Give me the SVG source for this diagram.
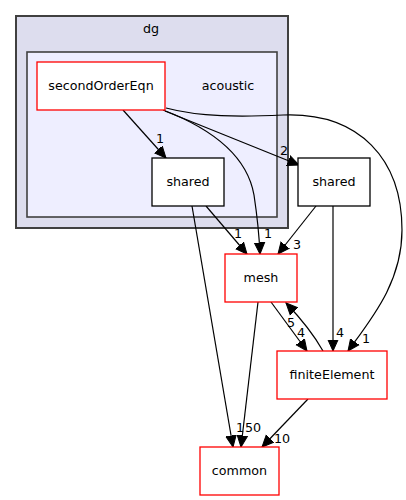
<svg xmlns="http://www.w3.org/2000/svg" width="406" height="500" viewBox="0 0 406 500">
<defs>
<style>
text{font-family:"DejaVu Sans","Liberation Sans",sans-serif;font-size:12.7px;fill:#000;}
.n text{text-anchor:middle;}
.e path{fill:none;stroke:#000;stroke-width:1.2;}
.e text{text-anchor:middle;}
.red{fill:#fff;stroke:#ff0000;stroke-width:1.3;}
.blk{fill:#fff;stroke:#000;stroke-width:1.3;}
</style>
<marker id="ah" markerUnits="userSpaceOnUse" markerWidth="14" markerHeight="14" viewBox="0 -7 14 14" refX="11.5" refY="0" orient="auto">
<path d="M0,-5.2 L11.5,0 L0,5.2 z" fill="#000" stroke="#000" stroke-width="1"/>
</marker>
</defs>
<rect width="406" height="500" fill="#fff"/>
<g id="cluster_dg">
<rect x="16" y="16" width="272" height="212" fill="#ddddee" stroke="#404040" stroke-width="2"/>
<text x="151" y="33" text-anchor="middle">dg</text>
</g>
<g id="cluster_acoustic">
<rect x="27" y="52" width="250" height="165" fill="#eeeeff" stroke="#404040" stroke-width="1.6"/>
<text x="228" y="90" text-anchor="middle">acoustic</text>
</g>
<g id="edges" class="e">
<path d="M123,110 L166,158" marker-end="url(#ah)"/>
<text x="160" y="143">1</text>
<path d="M163,110 C210,128 247,155 254,195 C257,215 259,232 260,254" marker-end="url(#ah)"/>
<text x="268" y="238">1</text>
<path d="M165,111 L299,165" marker-end="url(#ah)"/>
<text x="284" y="155">2</text>
<path d="M166,108 C200,117 240,117 283,115 C360,112 402,160 402,230 C402,282 372,318 348,351" marker-end="url(#ah)"/>
<text x="366" y="343">1</text>
<path d="M206,206 L247,254" marker-end="url(#ah)"/>
<text x="238" y="238">1</text>
<path d="M192,206 L233,447" marker-end="url(#ah)"/>
<text x="240" y="432">1</text>
<path d="M316,206 L278,254" marker-end="url(#ah)"/>
<text x="297" y="249">3</text>
<path d="M333,206 L333,351" marker-end="url(#ah)"/>
<text x="340" y="337">4</text>
<path d="M271,302 L307,351" marker-end="url(#ah)"/>
<text x="301" y="337">4</text>
<path d="M323,351 Q310,328 286,303" marker-end="url(#ah)"/>
<text x="291" y="327">5</text>
<path d="M258,302 L241,447" marker-end="url(#ah)"/>
<text x="253" y="432">50</text>
<path d="M308,399 L262,447" marker-end="url(#ah)"/>
<text x="282" y="443">10</text>
</g>
<g id="node_secondOrderEqn" class="n">
<rect class="red" x="37" y="62" width="128" height="48"/>
<text x="101" y="90">secondOrderEqn</text>
</g>
<g id="node_shared_inner" class="n">
<rect class="blk" x="152" y="158" width="72" height="48"/>
<text x="188" y="186">shared</text>
</g>
<g id="node_shared_outer" class="n">
<rect class="blk" x="298" y="158" width="72" height="48"/>
<text x="334" y="186">shared</text>
</g>
<g id="node_mesh" class="n">
<rect class="red" x="225" y="254" width="72" height="48"/>
<text x="261" y="282">mesh</text>
</g>
<g id="node_finiteElement" class="n">
<rect class="red" x="277" y="351" width="110" height="48"/>
<text x="332" y="379">finiteElement</text>
</g>
<g id="node_common" class="n">
<rect class="red" x="200" y="447" width="79" height="48"/>
<text x="239.5" y="475">common</text>
</g>
</svg>
